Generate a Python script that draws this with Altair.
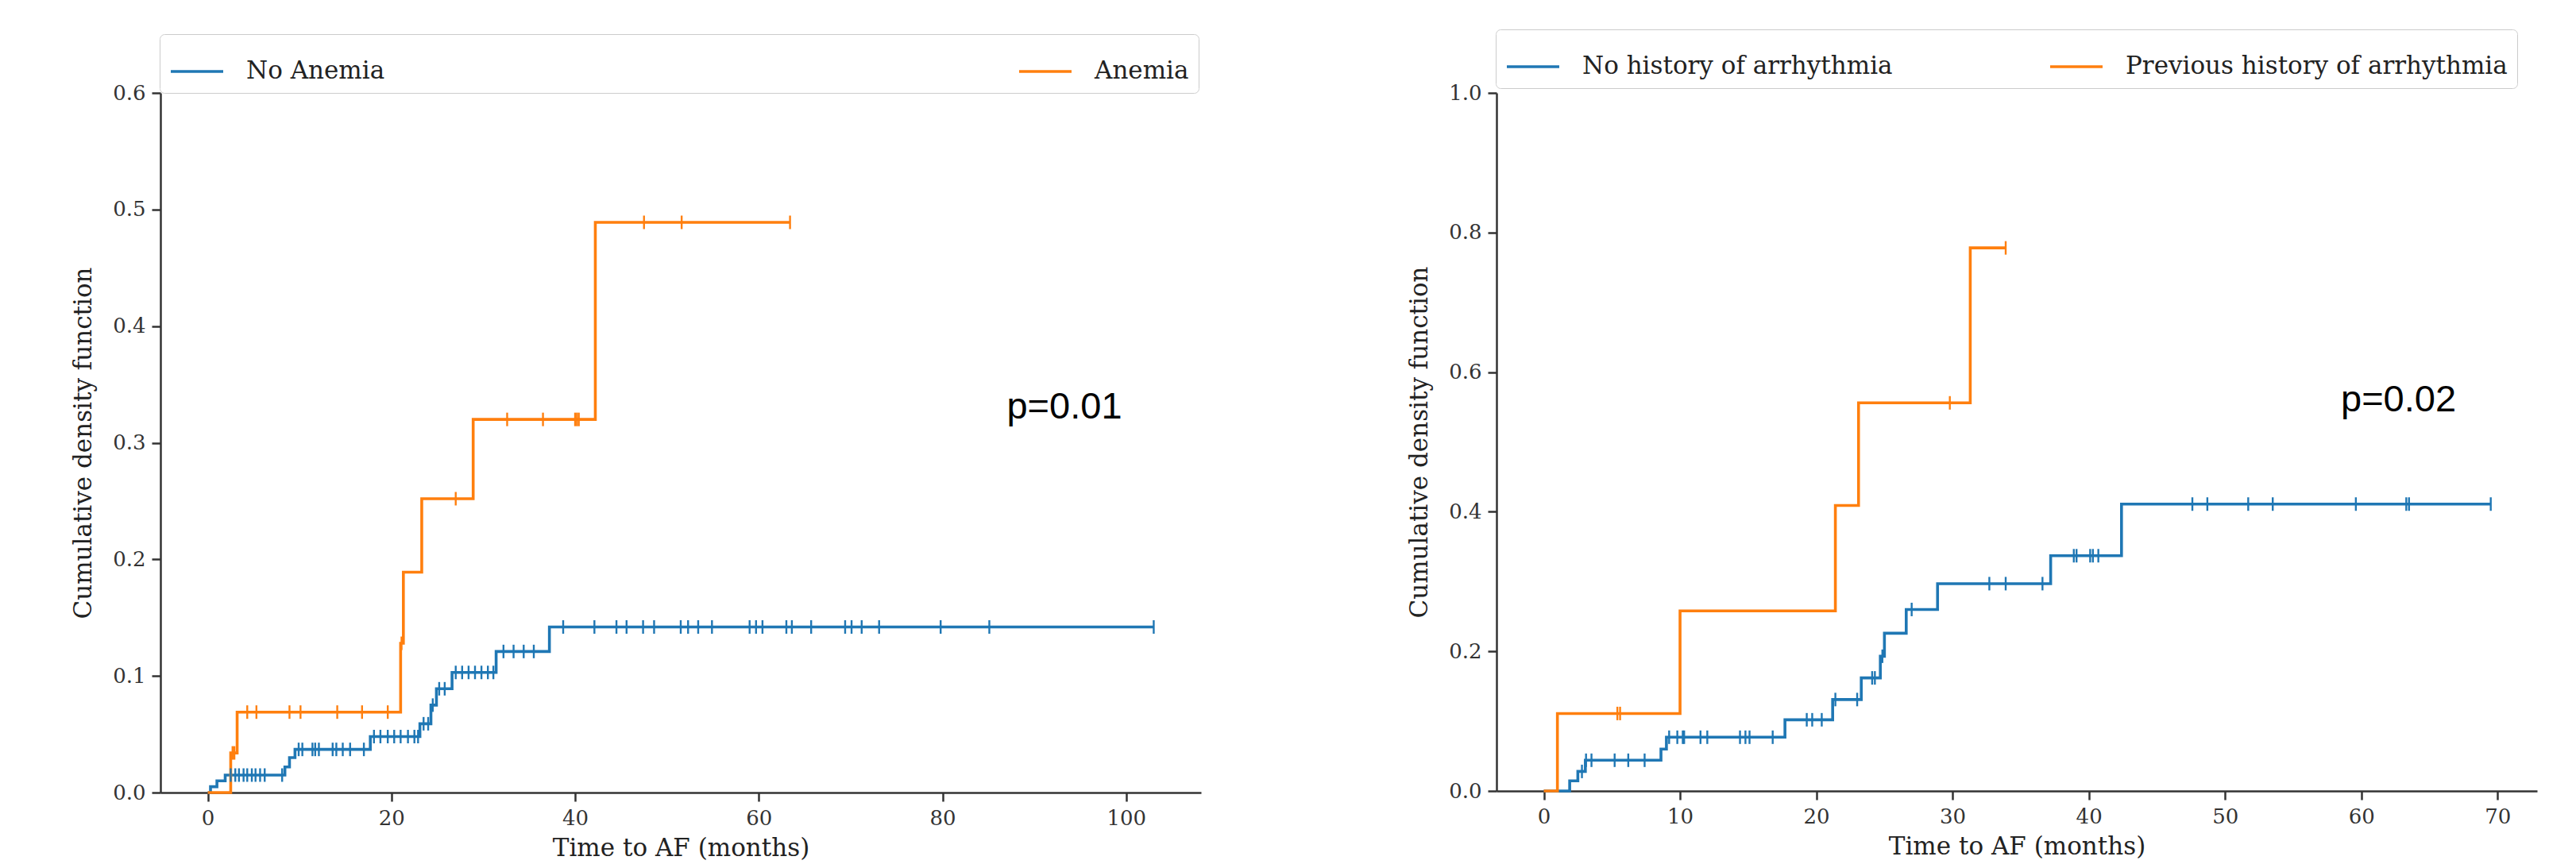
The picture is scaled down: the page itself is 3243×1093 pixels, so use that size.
import altair as alt
import pandas as pd

# ---------------- Left panel: anemia ----------------
na_event_t = [0, 0.3, 1.0, 1.9, 8.4, 8.9, 9.5, 17.7, 23.1, 24.3, 24.9, 26.6, 31.4, 37.2]
na_event_v = [0, 0.005, 0.010, 0.015, 0.022, 0.030, 0.037, 0.048, 0.059, 0.075, 0.089, 0.103, 0.121, 0.142]
na_censor_t = [2.5, 3.0, 3.4, 3.9, 4.3, 4.8, 5.2, 5.7, 6.2, 8.1, 9.9, 10.3, 11.4, 11.7, 12.1, 13.6,
               14.0, 14.7, 15.5, 17.0, 18.1, 18.8, 19.6, 20.3, 21.0, 21.8, 22.5, 22.9, 23.5, 24.0,
               24.5, 25.2, 25.8, 27.0, 27.7, 28.4, 29.1, 29.8, 30.5, 31.1, 32.2, 33.3, 34.4, 35.5,
               38.7, 42.1, 44.5, 45.6, 47.4, 48.6, 51.5, 52.3, 53.4, 54.9, 59.0, 59.7, 60.4, 63.0,
               63.6, 65.7, 69.4, 70.1, 71.2, 73.1, 79.8, 85.1, 103.0]

an_event_t = [0, 2.5, 3.2, 21.0, 21.3, 23.3, 28.9, 42.2]
an_event_v = [0, 0.034, 0.069, 0.128, 0.189, 0.252, 0.320, 0.489]
an_censor_t = [2.7, 2.9, 4.3, 5.3, 8.9, 10.1, 14.1, 16.8, 19.6, 21.1, 27.0, 32.6, 36.5,
               40.0, 40.2, 40.4, 47.5, 51.6, 63.4]

left_groups = ["No Anemia", "Anemia"]

# ---------------- Right panel: arrhythmia ----------------
nh_event_t = [0, 1.9, 2.5, 3.05, 8.6, 9.0, 17.7, 21.2, 23.3, 24.7, 25.0, 26.6, 28.9, 37.2, 42.4]
nh_event_v = [0, 0.0145, 0.028, 0.044, 0.060, 0.077, 0.102, 0.131, 0.162, 0.193, 0.226, 0.260,
              0.297, 0.337, 0.411]
nh_censor_t = [2.8, 3.1, 3.5, 5.2, 6.2, 7.4, 9.2, 9.8, 10.2, 10.3, 11.5, 12.0, 14.4, 14.8, 15.1,
               16.8, 19.3, 19.7, 20.4, 21.4, 23.0, 24.1, 24.3, 24.85, 27.0, 32.7, 33.9, 36.6,
               38.9, 39.1, 40.1, 40.3, 40.7, 47.6, 48.7, 51.7, 53.5, 59.6, 63.3, 63.5, 69.5]

ph_event_t = [0, 1.0, 10.0, 21.4, 23.1, 31.3]
ph_event_v = [0, 0.111, 0.258, 0.409, 0.556, 0.778]
ph_censor_t = [5.4, 5.6, 29.8, 33.9]

right_groups = ["No history of arrhythmia", "Previous history of arrhythmia"]

colors = ["#1f77b4", "#ff7f0e"]
x_label = "Time to AF (months)"
y_label = "Cumulative density function"
p_texts = ["p=0.01", "p=0.02"]
p_pos = [(87.0, 0.321), (58.5, 0.544)]

SERIF = "DejaVu Serif"


def level_at(t, et, ev):
    v = 0.0
    for a, b in zip(et, ev):
        if a <= t:
            v = b
    return v


def build(series):
    line_rows, cens_rows = [], []
    for name, et, ev, ct in series:
        tmax = max(max(ct), max(et))
        for a, b in zip(et, ev):
            line_rows.append({"t": a, "v": b, "g": name})
        line_rows.append({"t": tmax, "v": ev[-1], "g": name})
        for c in ct:
            cens_rows.append({"t": c, "v": level_at(c, et, ev), "g": name})
    return pd.DataFrame(line_rows), pd.DataFrame(cens_rows)


def panel(series, groups, xdom, xticks, ydom, yticks, h, legend_y, col_pad, ptext, ppos):
    lines, cens = build(series)
    xs = alt.Scale(domain=xdom, nice=False, zero=False)
    ys = alt.Scale(domain=ydom, nice=False, zero=False)
    xax = alt.Axis(values=xticks, format="d", title=x_label, labelPadding=8, titlePadding=10)
    yax = alt.Axis(values=yticks, format=".1f", title=y_label, labelPadding=8, titlePadding=20)
    cscale = alt.Scale(domain=groups, range=colors)
    leg = alt.Legend(
        orient="none", legendX=-1, legendY=legend_y, direction="horizontal", columns=2,
        title=None, symbolType="stroke", symbolSize=4356, symbolStrokeWidth=3.6,
        labelFont=SERIF, labelFontSize=31, labelColor="#222", labelOffset=27,
        columnPadding=col_pad, padding=12, strokeColor="#cccccc", cornerRadius=6,
        fillColor="white", labelLimit=1000,
    )
    base_line = alt.Chart(lines).mark_line(interpolate="step-after", strokeWidth=3.6).encode(
        x=alt.X("t:Q", scale=xs, axis=xax),
        y=alt.Y("v:Q", scale=ys, axis=yax),
        color=alt.Color("g:N", scale=cscale, legend=leg, sort=groups),
        detail="g:N",
    )
    ticks = alt.Chart(cens).mark_tick(orient="vertical", size=17, thickness=2.4, opacity=1).encode(
        x=alt.X("t:Q", scale=xs),
        y=alt.Y("v:Q", scale=ys),
        color=alt.Color("g:N", scale=cscale, legend=None, sort=groups),
    )
    ann = alt.Chart(pd.DataFrame({"t": [ppos[0]], "v": [ppos[1]], "s": [ptext]})).mark_text(
        font="Liberation Sans", fontSize=47, align="left", baseline="alphabetic", color="black"
    ).encode(x=alt.X("t:Q", scale=xs), y=alt.Y("v:Q", scale=ys), text="s:N")
    return alt.layer(base_line, ticks, ann).properties(width=1310, height=h)


left = panel(
    [("No Anemia", na_event_t, na_event_v, na_censor_t), ("Anemia", an_event_t, an_event_v, an_censor_t)],
    left_groups, [-5.15, 108.15], [0, 20, 40, 60, 80, 100], [0, 0.6],
    [0, 0.1, 0.2, 0.3, 0.4, 0.5, 0.6], 881, -74, 790, p_texts[0], p_pos[0],
)
right = panel(
    [("No history of arrhythmia", nh_event_t, nh_event_v, nh_censor_t),
     ("Previous history of arrhythmia", ph_event_t, ph_event_v, ph_censor_t)],
    right_groups, [-3.47, 72.9], [0, 10, 20, 30, 40, 50, 60, 70], [0, 1.0],
    [0, 0.2, 0.4, 0.6, 0.8, 1.0], 879, -80, 190, p_texts[1], p_pos[1],
)

chart = alt.hconcat(left, right, spacing=259).resolve_scale(color="independent").resolve_legend(
    color="independent"
).properties(
    padding={"left": 81, "top": 28, "right": 5, "bottom": 0}
).configure_view(stroke=None).configure_axis(
    grid=False, domainColor="#333333", domainWidth=2.5, tickColor="#333333", tickWidth=2.5,
    tickSize=11, labelFont=SERIF, labelFontSize=26, labelColor="#333333",
    titleFont=SERIF, titleFontSize=31, titleFontWeight="normal", titleColor="#222222",
)

chart.save("out.html", embed_options={"renderer": "svg", "actions": False})
